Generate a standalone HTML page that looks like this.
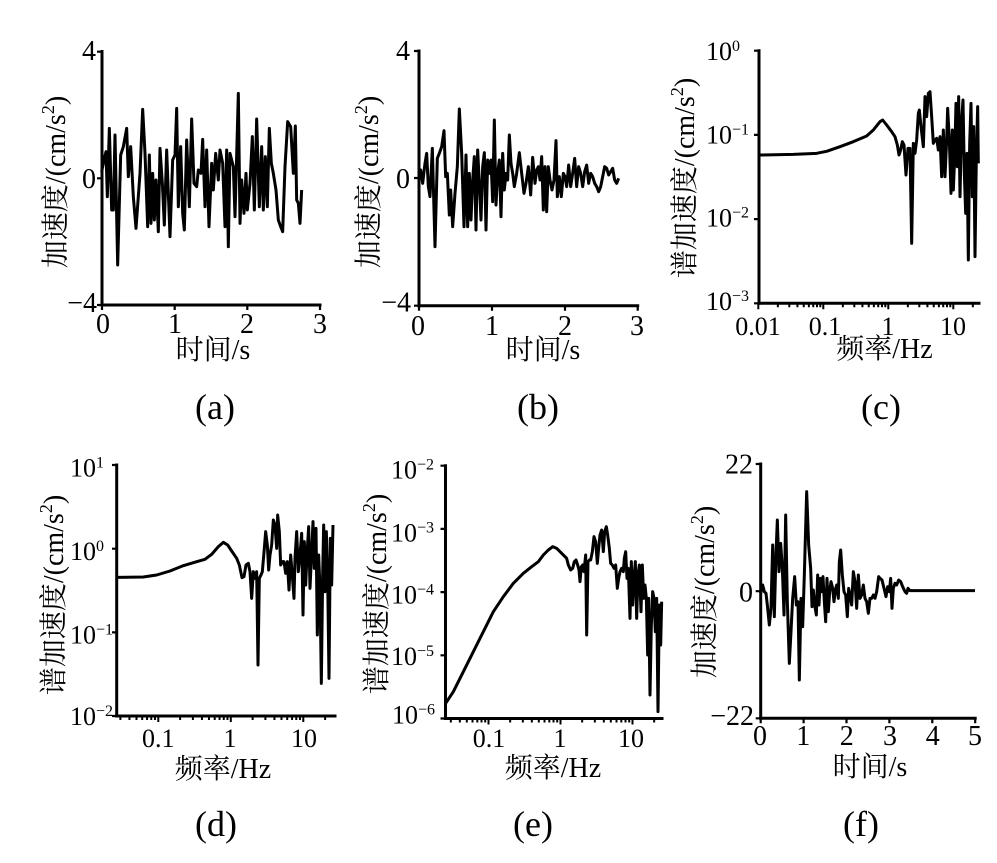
<!DOCTYPE html>
<html>
<head>
<meta charset="utf-8">
<style>
html,body{margin:0;padding:0;background:#fff;}
svg{display:block;}
text{font-family:"Liberation Serif","Noto Serif CJK SC",serif;fill:#000;}
.ax{stroke:#000;stroke-width:3;fill:none;stroke-linecap:square;}
.tk{stroke:#000;stroke-width:2.2;fill:none;}
.dat{stroke:#000;stroke-width:3;fill:none;stroke-linejoin:round;}
</style>
</head>
<body>
<svg width="997" height="863" viewBox="0 0 997 863" xmlns="http://www.w3.org/2000/svg">
<defs>
  <path id="dec" d="M0 0v6M30.1 0v4M47.7 0v4M60.2 0v4M69.9 0v4M77.8 0v4M84.5 0v4M90.3 0v4M95.4 0v4" stroke="#000" stroke-width="2" vector-effect="non-scaling-stroke" fill="none"/>
  <clipPath id="cc"><rect x="756" y="290" width="224" height="20"/></clipPath>
  <clipPath id="cd"><rect x="114" y="700" width="222" height="25"/></clipPath>
  <clipPath id="ce"><rect x="443" y="700" width="220" height="25"/></clipPath>
</defs>

<!-- ============ Panel (a) ============ -->
<g>
  <line class="ax" x1="102" y1="51.5" x2="102" y2="305"/>
  <line class="ax" x1="102" y1="305" x2="320" y2="305"/>
  <path class="tk" d="M97 51.7H102M97 178.3H102M97 305H102M102 305v5M174.7 305v5M247.3 305v5M320 305v5"/>
  <text x="96" y="60" font-size="28" text-anchor="end">4</text>
  <text x="96" y="188" font-size="28" text-anchor="end">0</text>
  <text x="97" y="312" font-size="28" text-anchor="end">−4</text>
  <text x="103" y="333" font-size="28" text-anchor="middle">0</text>
  <text x="175" y="333" font-size="28" text-anchor="middle">1</text>
  <text x="247" y="333" font-size="28" text-anchor="middle">2</text>
  <text x="320" y="333" font-size="28" text-anchor="middle">3</text>
  <text x="213" y="359" font-size="28" text-anchor="middle">时间/s</text>
  <text transform="translate(65,182) rotate(-90)" font-size="28" text-anchor="middle">加速度/(cm/s<tspan font-size="18" dy="-11">2</tspan><tspan dy="11">)</tspan></text>
  <g transform="translate(30,40) scale(0.333333)">
    <polyline class="dat" vector-effect="non-scaling-stroke" points="215,395 222,360 228,335 232,470 238,265 245,510 250,510 255,285 263,675 272,345 280,320 290,265 295,410 302,320 310,470 318,565 330,400 338,208 345,340 353,560 358,345 363,550 368,400 373,540 378,420 385,575 390,325 397,430 403,555 410,330 420,590 428,360 435,345 440,205 445,500 452,320 458,520 463,570 470,300 478,500 485,237 492,430 500,440 505,390 513,400 518,298 525,500 530,330 537,560 545,370 550,450 557,340 565,420 570,330 578,370 585,560 590,330 595,620 600,340 610,380 615,530 625,160 630,550 635,420 642,520 648,400 652,510 660,430 667,290 673,510 680,237 688,500 695,320 700,510 706,350 712,500 718,265 724,370 730,400 738,450 745,540 752,560 758,575 765,380 773,245 782,260 790,400 796,258 800,480 805,490 810,550 815,450"/>
  </g>
  <text x="215" y="419" font-size="36" text-anchor="middle">(a)</text>
</g>

<!-- ============ Panel (b) ============ -->
<g>
  <line class="ax" x1="419" y1="51" x2="419" y2="305.7"/>
  <line class="ax" x1="419" y1="305.7" x2="637.7" y2="305.7"/>
  <path class="tk" d="M414 51H419M414 178H419M414 305.7H419M419 305.7v5M492 305.7v5M565 305.7v5M637.7 305.7v5"/>
  <text x="410" y="60" font-size="28" text-anchor="end">4</text>
  <text x="410" y="188" font-size="28" text-anchor="end">0</text>
  <text x="411" y="311.5" font-size="28" text-anchor="end">−4</text>
  <text x="418" y="335" font-size="28" text-anchor="middle">0</text>
  <text x="492" y="335" font-size="28" text-anchor="middle">1</text>
  <text x="565" y="335" font-size="28" text-anchor="middle">2</text>
  <text x="637" y="335" font-size="28" text-anchor="middle">3</text>
  <text x="543" y="359" font-size="28" text-anchor="middle">时间/s</text>
  <text transform="translate(378,182) rotate(-90)" font-size="28" text-anchor="middle">加速度/(cm/s<tspan font-size="18" dy="-11">2</tspan><tspan dy="11">)</tspan></text>
  <g transform="translate(340,40) scale(0.333333)">
    <polyline class="dat" vector-effect="non-scaling-stroke" points="237,410 242,390 248,430 255,370 260,340 265,440 270,470 277,325 285,620 292,355 298,340 305,320 312,272 317,410 322,400 328,525 332,450 338,560 345,460 352,380 358,207 365,340 372,560 378,345 383,560 388,400 393,540 398,420 403,350 408,570 413,330 418,430 423,540 428,380 433,338 438,570 443,360 448,400 453,360 458,485 463,240 468,495 473,400 478,360 483,530 488,340 493,450 498,400 503,420 508,285 513,370 518,400 523,440 530,400 538,338 545,400 552,460 558,430 565,380 572,465 578,352 585,430 590,390 595,380 600,420 605,350 610,510 615,380 620,515 625,380 630,420 636,450 642,420 648,302 652,470 658,410 664,470 670,400 675,410 680,440 686,375 692,440 698,400 704,355 710,440 716,380 722,400 728,440 734,395 740,375 746,430 752,400 758,410 764,430 770,440 776,455 782,440 788,410 794,380 800,385 806,405 812,395 818,385 824,420 830,430 836,415"/>
  </g>
  <text x="538" y="419" font-size="36" text-anchor="middle">(b)</text>
</g>

<!-- ============ Panel (c) ============ -->
<g>
  <line class="ax" x1="759" y1="50.7" x2="759" y2="303.3"/>
  <line class="ax" x1="759" y1="303.3" x2="979" y2="303.3"/>
  <path class="tk" d="M754 50.7H759M754 134.9H759M754 219.1H759M754 303.3H759"/>
  <g clip-path="url(#cc)">
    <use href="#dec" transform="translate(758.3,303.3) scale(0.65,1)"/>
    <use href="#dec" transform="translate(823.3,303.3) scale(0.65,1)"/>
    <use href="#dec" transform="translate(888.3,303.3) scale(0.65,1)"/>
    <use href="#dec" transform="translate(953.3,303.3) scale(0.65,1)"/>
  </g>
  <text x="706" y="60" font-size="26">10<tspan font-size="16" dy="-9">0</tspan></text>
  <text x="706" y="143.3" font-size="26">10<tspan font-size="16" dy="-9">−1</tspan></text>
  <text x="706" y="226.7" font-size="26">10<tspan font-size="16" dy="-9">−2</tspan></text>
  <text x="706" y="310" font-size="26">10<tspan font-size="16" dy="-9">−3</tspan></text>
  <text x="758" y="335" font-size="26" text-anchor="middle">0.01</text>
  <text x="825" y="335" font-size="26" text-anchor="middle">0.1</text>
  <text x="888" y="335" font-size="26" text-anchor="middle">1</text>
  <text x="953" y="335" font-size="26" text-anchor="middle">10</text>
  <text x="884.5" y="358" font-size="28" text-anchor="middle">频率/Hz</text>
  <text transform="translate(694,178) rotate(-90)" font-size="28" text-anchor="middle">谱加速度/(cm/s<tspan font-size="18" dy="-11">2</tspan><tspan dy="11">)</tspan></text>
  <g transform="translate(660,30) scale(0.333333)">
    <polyline class="dat" vector-effect="non-scaling-stroke" points="300,375 400,373 470,370 500,364 540,350 580,335 620,318 640,300 660,275 668,270 680,285 695,305 705,320 712,345 717,375 722,360 727,335 732,345 738,435 744,355 750,355 755,640 760,340 765,370 770,330 775,250 778,240 783,290 790,350 795,200 800,260 805,190 810,185 815,260 820,340 825,330 830,325 835,360 840,320 845,440 850,300 855,440 860,330 863,235 868,330 873,490 877,300 880,480 884,380 888,220 892,410 896,200 900,500 905,270 909,210 913,430 917,550 921,370 925,690 929,340 933,220 937,500 941,290 945,680 949,380 953,230 955,400"/>
  </g>
  <text x="881" y="419" font-size="36" text-anchor="middle">(c)</text>
</g>

<!-- ============ Panel (d) ============ -->
<g>
  <line class="ax" x1="116.7" y1="465" x2="116.7" y2="716"/>
  <line class="ax" x1="116.7" y1="716" x2="335" y2="716"/>
  <path class="tk" d="M112 465H117M112 548.7H117M112 632.4H117M112 716H117"/>
  <g clip-path="url(#cd)">
    <use href="#dec" transform="translate(85.8,716) scale(0.725,1)"/>
    <use href="#dec" transform="translate(158.3,716) scale(0.725,1)"/>
    <use href="#dec" transform="translate(230.8,716) scale(0.725,1)"/>
    <use href="#dec" transform="translate(303.3,716) scale(0.725,1)"/>
  </g>
  <text x="70" y="476.7" font-size="26">10<tspan font-size="16" dy="-9">1</tspan></text>
  <text x="70" y="560" font-size="26">10<tspan font-size="16" dy="-9">0</tspan></text>
  <text x="70" y="643.3" font-size="26">10<tspan font-size="16" dy="-9">−1</tspan></text>
  <text x="70" y="725" font-size="26">10<tspan font-size="16" dy="-9">−2</tspan></text>
  <text x="158.3" y="747" font-size="26" text-anchor="middle">0.1</text>
  <text x="230" y="747" font-size="26" text-anchor="middle">1</text>
  <text x="304" y="747" font-size="26" text-anchor="middle">10</text>
  <text x="223" y="778" font-size="28" text-anchor="middle">频率/Hz</text>
  <text transform="translate(63,595) rotate(-90)" font-size="28" text-anchor="middle">谱加速度/(cm/s<tspan font-size="18" dy="-11">2</tspan><tspan dy="11">)</tspan></text>
  <g transform="translate(30,445) scale(0.333333)">
    <polyline class="dat" vector-effect="non-scaling-stroke" points="262,397 340,396 380,390 420,378 460,362 500,350 525,343 545,328 565,305 580,292 593,300 605,318 620,340 628,360 636,398 642,395 648,360 655,355 660,380 665,460 670,380 675,400 680,380 684,660 688,400 693,390 697,380 703,310 707,260 712,300 716,375 720,330 725,300 730,225 735,240 740,310 743,210 748,260 752,360 757,350 762,350 767,385 772,350 777,435 782,330 786,380 792,460 795,340 800,260 805,380 810,330 815,265 819,510 823,290 827,420 831,330 836,245 840,430 845,320 849,230 853,370 858,250 862,570 866,330 870,430 874,715 878,390 881,240 885,440 889,260 893,400 897,700 901,280 905,420 909,240"/>
  </g>
  <text x="216" y="836" font-size="36" text-anchor="middle">(d)</text>
</g>

<!-- ============ Panel (e) ============ -->
<g>
  <line class="ax" x1="445.5" y1="465.7" x2="445.5" y2="718.5"/>
  <line class="ax" x1="445.5" y1="718.5" x2="662" y2="718.5"/>
  <path class="tk" d="M440.5 465.7H445.5M440.5 528.9H445.5M440.5 592.1H445.5M440.5 655.3H445.5M440.5 718.5H445.5"/>
  <g clip-path="url(#ce)">
    <use href="#dec" transform="translate(416.5,718.5) scale(0.72,1)"/>
    <use href="#dec" transform="translate(488.5,718.5) scale(0.72,1)"/>
    <use href="#dec" transform="translate(560.5,718.5) scale(0.72,1)"/>
    <use href="#dec" transform="translate(632.5,718.5) scale(0.72,1)"/>
  </g>
  <text x="391" y="478.3" font-size="26">10<tspan font-size="16" dy="-9">−2</tspan></text>
  <text x="391" y="541.7" font-size="26">10<tspan font-size="16" dy="-9">−3</tspan></text>
  <text x="391" y="603.3" font-size="26">10<tspan font-size="16" dy="-9">−4</tspan></text>
  <text x="391" y="665" font-size="26">10<tspan font-size="16" dy="-9">−5</tspan></text>
  <text x="392" y="723.3" font-size="26">10<tspan font-size="16" dy="-9">−6</tspan></text>
  <text x="489" y="747" font-size="26" text-anchor="middle">0.1</text>
  <text x="560" y="747" font-size="26" text-anchor="middle">1</text>
  <text x="631" y="747" font-size="26" text-anchor="middle">10</text>
  <text x="553" y="777" font-size="28" text-anchor="middle">频率/Hz</text>
  <text transform="translate(386,594) rotate(-90)" font-size="28" text-anchor="middle">谱加速度/(cm/s<tspan font-size="18" dy="-11">2</tspan><tspan dy="11">)</tspan></text>
  <g transform="translate(350,445) scale(0.333333)">
    <polyline class="dat" vector-effect="non-scaling-stroke" points="287,775 310,740 340,680 370,620 400,560 430,500 460,455 490,415 520,385 545,365 565,350 580,330 595,315 608,305 620,310 635,325 650,340 655,360 662,375 668,370 673,350 678,345 683,360 687,375 690,410 694,365 698,360 702,380 707,330 710,570 714,350 718,345 722,345 727,320 732,275 737,290 742,355 745,320 750,270 755,255 760,320 764,260 769,245 773,270 778,310 782,355 787,360 792,370 797,360 802,430 806,400 810,380 815,370 820,380 823,340 827,320 831,400 835,370 840,520 844,350 848,480 852,400 856,350 860,520 864,390 868,360 873,500 877,360 881,460 885,420 889,460 893,630 896,460 900,750 904,540 908,440 912,460 916,560 920,460 924,800 928,480 932,600 935,470"/>
  </g>
  <text x="533" y="836" font-size="36" text-anchor="middle">(e)</text>
</g>

<!-- ============ Panel (f) ============ -->
<g>
  <line class="ax" x1="760.7" y1="464" x2="760.7" y2="718.3"/>
  <line class="ax" x1="760.7" y1="718.3" x2="975.2" y2="718.3"/>
  <path class="tk" d="M755.7 464H760.7M755.7 591.2H760.7M755.7 718.3H760.7M760.7 718.3v5M803.6 718.3v5M846.5 718.3v5M889.4 718.3v5M932.3 718.3v5M975.2 718.3v5"/>
  <text x="753" y="473.3" font-size="28" text-anchor="end">22</text>
  <text x="753" y="601.7" font-size="28" text-anchor="end">0</text>
  <text x="754" y="725" font-size="28" text-anchor="end">−22</text>
  <text x="760" y="745" font-size="28" text-anchor="middle">0</text>
  <text x="803.3" y="745" font-size="28" text-anchor="middle">1</text>
  <text x="846.7" y="745" font-size="28" text-anchor="middle">2</text>
  <text x="890" y="745" font-size="28" text-anchor="middle">3</text>
  <text x="932.7" y="745" font-size="28" text-anchor="middle">4</text>
  <text x="975" y="745" font-size="28" text-anchor="middle">5</text>
  <text x="870" y="776" font-size="28" text-anchor="middle">时间/s</text>
  <text transform="translate(714,592) rotate(-90)" font-size="28" text-anchor="middle">加速度/(cm/s<tspan font-size="18" dy="-11">2</tspan><tspan dy="11">)</tspan></text>
  <g transform="translate(680,445) scale(0.333333)">
    <polyline class="dat" vector-effect="non-scaling-stroke" points="242,445 248,420 253,440 258,445 262,480 268,540 273,490 278,300 283,515 288,325 292,225 297,380 302,295 307,370 312,510 317,210 322,470 328,655 333,560 338,460 344,395 349,480 354,470 358,705 363,460 368,545 373,390 380,140 386,300 392,370 396,485 400,435 404,480 409,510 413,390 417,480 421,400 425,440 429,395 433,470 437,530 441,400 445,500 449,440 453,410 458,430 462,470 466,435 470,420 475,460 478,350 482,315 487,390 492,440 497,450 502,515 506,430 510,450 515,480 520,380 525,410 530,490 535,390 540,460 545,450 550,420 555,460 560,470 565,505 570,460 575,460 580,450 585,460 590,440 596,395 600,400 606,405 612,430 618,455 623,425 628,440 632,400 636,490 640,430 645,415 650,420 656,405 662,410 668,425 675,440 680,445 684,430 690,437 885,437"/>
  </g>
  <text x="861" y="836" font-size="36" text-anchor="middle">(f)</text>
</g>
</svg>
</body>
</html>
